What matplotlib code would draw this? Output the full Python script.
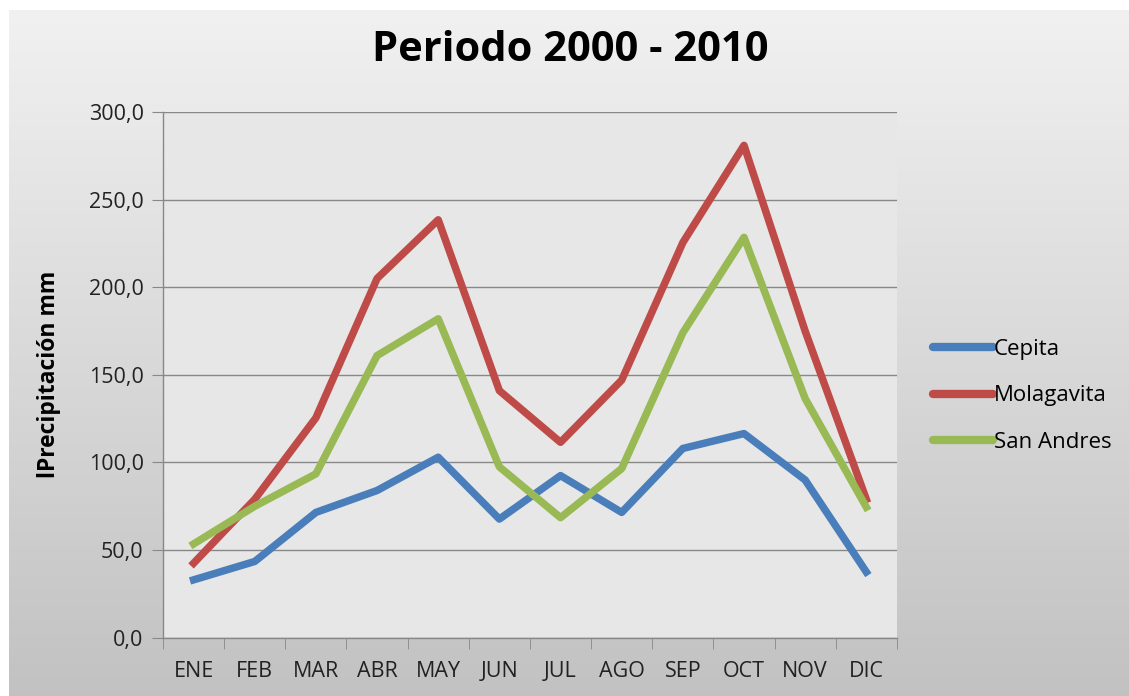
import numpy as np
import matplotlib.pyplot as plt

meses = ['ENE', 'FEB', 'MAR', 'ABR', 'MAY', 'JUN', 'JUL', 'AGO', 'SEP', 'OCT', 'NOV', 'DIC']
cepita = [33.0, 43.5, 71.5, 84.0, 103.0, 67.7, 92.5, 71.5, 108.0, 116.5, 90.0, 37.5]
molagavita = [42.5, 79.0, 125.5, 205.0, 238.5, 141.0, 111.5, 147.0, 225.5, 281.0, 175.0, 79.0]
san_andres = [53.5, 75.0, 93.5, 161.0, 182.0, 97.5, 68.5, 96.5, 174.0, 228.5, 136.5, 74.5]

plt.rcParams['font.family'] = ['Open Sans', 'DejaVu Sans']

fig = plt.figure(figsize=(11.29, 6.96), dpi=100)
fig.patch.set_facecolor('white')

# fondo degradado del area del grafico
bg = fig.add_axes([0.008, 0, 0.992, 0.986], zorder=0)
grad = np.linspace(0.945, 0.76, 256).reshape(-1, 1)
bg.imshow(np.dstack([grad, grad, grad]), aspect='auto', extent=[0, 1, 0, 1], origin='upper')
bg.axis('off')

ax = fig.add_axes([0.1444, 0.0838, 0.65, 0.7552], zorder=1)
ax.set_facecolor('#e7e7e7')

x = np.arange(len(meses))
ax.plot(x, cepita, color='#4a7ebb', lw=5.4, label='Cepita')
ax.plot(x, molagavita, color='#be4b48', lw=5.4, label='Molagavita')
ax.plot(x, san_andres, color='#98b954', lw=5.4, label='San Andres')

ax.set_xlim(-0.5, len(meses) - 0.5)
ax.set_ylim(0, 300)
ax.set_yticks(np.arange(0, 301, 50))
ax.set_yticklabels([f'{v:.1f}'.replace('.', ',') for v in np.arange(0, 301, 50)], fontsize=15.5, color='#222222')
ax.set_xticks(x)
ax.set_xticklabels(meses, fontsize=15.5, color='#222222')
ax.set_xticks(np.arange(-0.5, len(meses)), minor=True)
ax.tick_params(axis='x', which='major', length=0, pad=17)
ax.tick_params(axis='x', which='minor', length=8, direction='out', color='#888888')
ax.tick_params(axis='y', length=8, direction='out', color='#888888', pad=6)
ax.grid(axis='y', color='#888888', lw=1)
ax.set_axisbelow(True)
for s in ['top', 'right']:
    ax.spines[s].set_visible(False)
for s in ['left', 'bottom']:
    ax.spines[s].set_color('#888888')
    ax.spines[s].set_linewidth(1)

ax.set_ylabel('lPrecipitación mm', fontsize=16.5, fontweight='bold', labelpad=20)
fig.text(0.505, 0.927, 'Periodo 2000 - 2010', ha='center', va='center', fontsize=30, fontweight='bold')

leg = ax.legend(loc='center left', bbox_to_anchor=(1.049, 0.46), frameon=False, fontsize=16,
                borderaxespad=0, borderpad=0, handlelength=2.7, handletextpad=0.05,
                labelspacing=1.15)
for h in leg.get_lines():
    h.set_linewidth(6)
    h.set_solid_capstyle('round')

fig.savefig('out.png', dpi=100)
